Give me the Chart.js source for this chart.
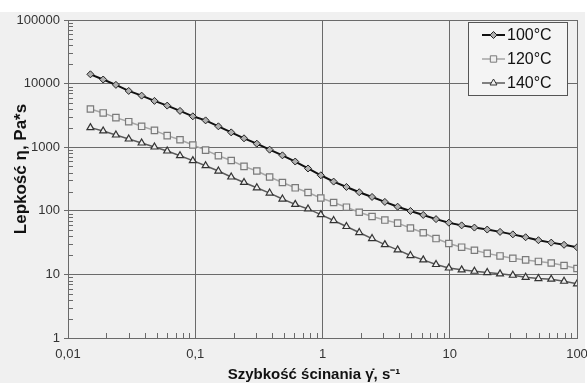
<!DOCTYPE html>
<html>
<head>
<meta charset="utf-8">
<script src="https://cdn.jsdelivr.net/npm/chart.js@4.4.1/dist/chart.umd.min.js"></script>
<style>
  html, body { margin: 0; padding: 0; background: #fff; }
  #wrap { width: 587px; height: 383px; position: relative; }
</style>
</head>
<body>
<div id="wrap"><canvas id="chart" width="587" height="383"></canvas></div>
<script>
// shear rate, 1/s
const shearRate = [0.015, 0.0189, 0.0238, 0.0300, 0.0379, 0.0478, 0.0602, 0.0759, 0.0957,
  0.1206, 0.152, 0.1917, 0.2417, 0.3047, 0.3841, 0.4842, 0.6104, 0.7695, 0.970,
  1.223, 1.542, 1.944, 2.451, 3.090, 3.894, 4.909, 6.189, 7.802, 9.835,
  12.40, 15.63, 19.70, 24.84, 31.31, 39.48, 49.77, 62.74, 79.10, 100];

// viscosity, Pa*s
const visc100 = [14000, 11600, 9550, 7670, 6470, 5350, 4510, 3720, 3060,
  2640, 2130, 1710, 1380, 1135, 914, 745, 595, 463, 362,
  288, 237, 196, 165, 138, 116, 99.5, 86, 74, 65,
  59, 54.5, 50.7, 46.6, 42.6, 38.4, 34.5, 31.6, 29.2, 26.7];
const visc120 = [3990, 3460, 2920, 2520, 2130, 1840, 1520, 1310, 1083,
  900, 735, 618, 499, 422, 340, 279, 230, 194, 159,
  135, 114, 95, 81.3, 71.5, 64, 53.6, 45.2, 36.6, 30.6,
  26.8, 24, 21.4, 19.5, 17.9, 16.9, 16, 15.1, 13.8, 12.4];
const visc140 = [2030, 1800, 1556, 1346, 1164, 1007, 871, 735, 615,
  512, 422, 340, 279, 230, 190, 153, 126, 107, 87,
  70.3, 56.6, 45.5, 36.6, 29.4, 24.3, 19.8, 16.9, 14.3, 12.6,
  11.8, 11.2, 10.7, 10.2, 9.7, 9.0, 8.6, 8.4, 7.8, 7.1];

const seriesLabels = ['100°C', '120°C', '140°C'];

const xTickValues = [0.01, 0.1, 1, 10, 100];
const xTickLabels = ['0,01', '0,1', '1', '10', '100'];
const yTickValues = [1, 10, 100, 1000, 10000, 100000];
const yTickLabels = ['1', '10', '100', '1000', '10000', '100000'];

const xTitle = 'Szybkość ścinania γ̇, s⁻¹';
const yTitle = 'Lepkość η, Pa*s';

const FONT = '"Liberation Sans", Arial, sans-serif';
const GRID = '#6a6a6a';

const toPoints = ys => ys.map((y, i) => ({ x: shearRate[i], y }));

const background = {
  id: 'background',
  beforeDraw(chart) {
    const { ctx, width, height } = chart;
    ctx.save();
    ctx.fillStyle = '#ffffff';
    ctx.fillRect(0, 0, width, height);
    ctx.fillStyle = '#f0f0f0';
    ctx.fillRect(0, 12, 585, height - 12);
    ctx.restore();
  }
};

// small minor ticks drawn inward from the axes
const minorTicks = {
  id: 'minorTicks',
  afterDatasetsDraw(chart) {
    const { ctx, chartArea, scales } = chart;
    ctx.save();
    ctx.strokeStyle = GRID;
    ctx.lineWidth = 1;
    ctx.beginPath();
    yTickValues.slice(0, -1).forEach(d => {
      for (let m = 2; m < 10; m++) {
        const py = Math.round(scales.y.getPixelForValue(d * m)) + 0.5;
        ctx.moveTo(chartArea.left, py);
        ctx.lineTo(chartArea.left + 5, py);
      }
    });
    xTickValues.slice(0, -1).forEach(d => {
      for (let m = 2; m < 10; m++) {
        const px = Math.round(scales.x.getPixelForValue(d * m)) + 0.5;
        ctx.moveTo(px, chartArea.bottom);
        ctx.lineTo(px, chartArea.bottom - 5);
      }
    });
    ctx.stroke();
    ctx.restore();
  }
};

const axisTitles = {
  id: 'axisTitles',
  afterDraw(chart) {
    const { ctx } = chart;
    ctx.save();
    ctx.fillStyle = '#111';
    ctx.textAlign = 'center';
    ctx.textBaseline = 'middle';
    ctx.font = 'bold 15px ' + FONT;
    ctx.fillText(xTitle, 314, 375);
    ctx.font = 'bold 17px ' + FONT;
    ctx.translate(21, 169);
    ctx.rotate(-Math.PI / 2);
    ctx.fillText(yTitle, 0, 0);
    ctx.restore();
  }
};

const boxLegend = {
  id: 'boxLegend',
  afterDraw(chart) {
    const { ctx } = chart;
    const bx = 468.5, by = 22.5, bw = 99, bh = 73;
    ctx.save();
    ctx.fillStyle = '#f4f4f4';
    ctx.fillRect(bx, by, bw, bh);
    ctx.strokeStyle = '#555';
    ctx.lineWidth = 1;
    ctx.strokeRect(bx, by, bw, bh);
    chart.data.datasets.forEach((ds, i) => {
      const y = 35 + i * 24;
      ctx.strokeStyle = ds.borderColor;
      ctx.lineWidth = ds.borderWidth;
      ctx.beginPath();
      ctx.moveTo(482, y);
      ctx.lineTo(505, y);
      ctx.stroke();
      ctx.fillStyle = ds.pointBackgroundColor;
      ctx.strokeStyle = ds.pointBorderColor;
      ctx.lineWidth = 1;
      Chart.helpers.drawPoint(ctx, {
        pointStyle: ds.pointStyle, radius: ds.pointRadius, rotation: 0, borderWidth: 1
      }, 493.5, y);
      ctx.fillStyle = '#111';
      ctx.font = '16px ' + FONT;
      ctx.textAlign = 'left';
      ctx.textBaseline = 'middle';
      ctx.fillText(ds.label, 507, y + 1);
    });
    ctx.restore();
  }
};

new Chart(document.getElementById('chart'), {
  type: 'line',
  data: {
    datasets: [
      {
        label: seriesLabels[0], data: toPoints(visc100),
        borderColor: '#111', borderWidth: 2,
        pointStyle: 'rectRot', pointRadius: 3.5,
        pointBackgroundColor: '#b0b0b0', pointBorderColor: '#222', pointBorderWidth: 1
      },
      {
        label: seriesLabels[1], data: toPoints(visc120),
        borderColor: '#a6a6a6', borderWidth: 1.5,
        pointStyle: 'rect', pointRadius: 4.5,
        pointBackgroundColor: '#efefef', pointBorderColor: '#7a7a7a', pointBorderWidth: 1.2
      },
      {
        label: seriesLabels[2], data: toPoints(visc140),
        borderColor: '#5a5a5a', borderWidth: 1.5,
        pointStyle: 'triangle', pointRadius: 4,
        pointBackgroundColor: '#efefef', pointBorderColor: '#333', pointBorderWidth: 1.2
      }
    ]
  },
  options: {
    responsive: false,
    animation: false,
    layout: { padding: { top: 20, right: 10, left: 0, bottom: 0 }, autoPadding: false },
    plugins: { legend: { display: false }, tooltip: { enabled: false } },
    elements: { line: { tension: 0 } },
    scales: {
      x: {
        type: 'logarithmic', min: 0.01, max: 100,
        afterBuildTicks: s => { s.ticks = xTickValues.map(v => ({ value: v })); },
        afterFit: s => { s.height = 45; s.paddingLeft = 0; s.paddingRight = 0; },
        ticks: {
          callback: (v, i) => xTickLabels[i],
          font: { family: FONT, size: 13 }, color: '#333',
          padding: 9, maxRotation: 0, autoSkip: false
        },
        grid: { color: GRID, lineWidth: 1, drawTicks: false },
        border: { color: GRID, width: 1 }
      },
      y: {
        type: 'logarithmic', min: 1, max: 100000,
        afterBuildTicks: s => { s.ticks = yTickValues.map(v => ({ value: v })); },
        afterFit: s => { s.width = 68; s.paddingTop = 0; s.paddingBottom = 0; },
        ticks: {
          callback: (v, i) => yTickLabels[i],
          font: { family: FONT, size: 13 }, color: '#333',
          padding: 4, autoSkip: false
        },
        grid: { color: GRID, lineWidth: 1, tickLength: 4 },
        border: { color: GRID, width: 1 }
      }
    }
  },
  plugins: [background, minorTicks, axisTitles, boxLegend]
});
</script>
</body>
</html>
